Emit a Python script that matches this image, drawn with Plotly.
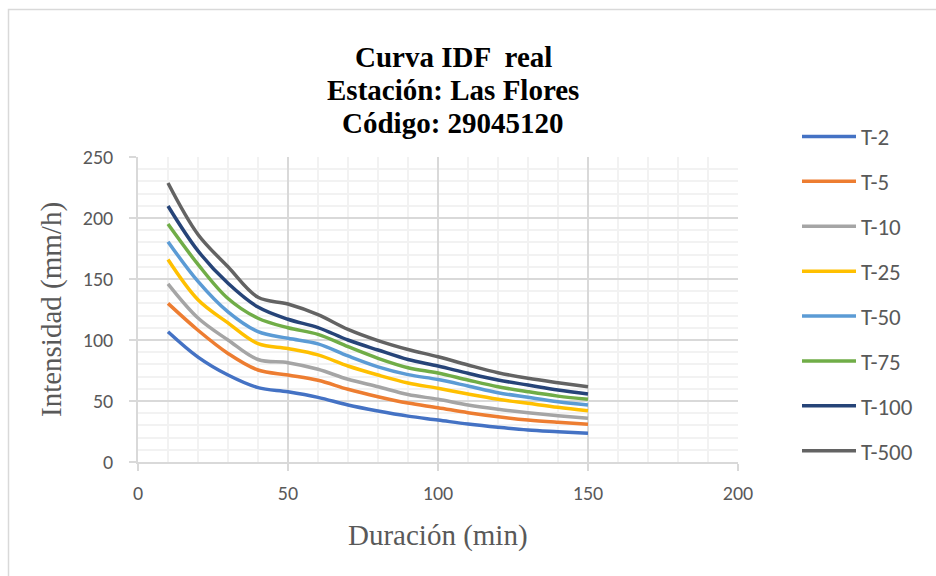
import plotly.graph_objects as go

durations = [10, 20, 30, 40, 50, 60, 70, 80, 90, 100, 110, 120, 130, 140, 150]

t2 = [106.8, 86.0, 71.3, 61.0, 57.6, 53.0, 46.7, 41.8, 37.6, 34.4, 31.1, 28.4, 26.2, 24.8, 23.5]
t5 = [130.0, 108.0, 89.0, 75.4, 71.3, 67.0, 59.6, 53.5, 48.3, 44.5, 40.4, 37.1, 34.4, 32.5, 30.9]
t10 = [146.0, 118.0, 100.0, 84.0, 81.4, 76.0, 67.8, 61.7, 55.3, 51.4, 46.7, 43.2, 40.4, 38.0, 35.8]
t25 = [166.0, 133.0, 114.0, 97.0, 93.0, 87.8, 78.7, 71.3, 64.8, 60.4, 55.7, 51.4, 48.1, 44.8, 42.0]
t50 = [180.6, 148.0, 123.0, 106.8, 101.4, 96.8, 86.9, 78.0, 71.6, 67.6, 62.3, 56.8, 53.0, 49.4, 46.7]
t75 = [195.0, 162.0, 134.0, 117.8, 110.0, 104.6, 94.5, 85.0, 77.3, 73.0, 67.2, 61.7, 57.6, 54.0, 51.4]
t100 = [209.8, 173.0, 146.5, 127.0, 117.0, 110.2, 100.0, 91.8, 84.0, 78.7, 72.7, 67.2, 63.1, 59.0, 55.7]
t500 = [228.7, 186.5, 160.0, 135.0, 129.5, 120.8, 108.7, 99.5, 92.2, 86.3, 79.5, 73.2, 68.6, 65.0, 61.7]

series_names = ["T-2", "T-5", "T-10", "T-25", "T-50", "T-75", "T-100", "T-500"]
series_values = [t2, t5, t10, t25, t50, t75, t100, t500]
colors = ["#4472C4", "#ED7D31", "#A5A5A5", "#FFC000", "#5B9BD5", "#70AD47", "#264478", "#636363"]

title_lines = ["Curva IDF  real", "Estación: Las Flores", "Código: 29045120"]
x_title = "Duración (min)"
y_title = "Intensidad (mm/h)"

sans = "Carlito, Calibri, Lato, sans-serif"
tick_font = dict(family=sans, size=20, color="#595959")
legend_font = dict(family=sans, size=23, color="#595959")
serif = "Liberation Serif, Times New Roman, serif"

fig = go.Figure()
for name, vals, col in zip(series_names, series_values, colors):
    fig.add_trace(go.Scatter(
        x=durations, y=vals, name=name, mode="lines",
        line=dict(color=col, width=3.5, shape="spline", smoothing=1.0),
        legendgroup=name,
    ))

L, R, T, B = 138, 198, 157, 114
W, H = 936, 576
pw, ph = W - L - R, H - T - B

def px_to_paper_x(px):
    return (px - L) / pw

def px_to_paper_y(py):
    return (H - B - py) / ph

annotations = []
for i, line in enumerate(title_lines):
    annotations.append(dict(
        text="<b>%s</b>" % line, xref="paper", yref="paper",
        x=px_to_paper_x(453), y=px_to_paper_y(57 + 33 * i),
        xanchor="center", yanchor="middle", showarrow=False,
        font=dict(family=serif, size=29, color="#000000"),
    ))
annotations.append(dict(
    text=x_title, xref="paper", yref="paper",
    x=px_to_paper_x(438), y=px_to_paper_y(535),
    xanchor="center", yanchor="middle", showarrow=False,
    font=dict(family=serif, size=29, color="#595959"),
))
annotations.append(dict(
    text=y_title, xref="paper", yref="paper", textangle=-90,
    x=px_to_paper_x(51), y=px_to_paper_y(310),
    xanchor="center", yanchor="middle", showarrow=False,
    font=dict(family=serif, size=29, color="#595959"),
))

fig.update_layout(
    width=W, height=H,
    margin=dict(l=L, r=R, t=T, b=B),
    paper_bgcolor="white", plot_bgcolor="white",
    showlegend=True,
    legend=dict(
        x=px_to_paper_x(797), y=px_to_paper_y(115), xanchor="left", yanchor="top",
        font=legend_font, tracegroupgap=12, itemwidth=54, maxheight=1.0,
        bgcolor="rgba(0,0,0,0)",
    ),
    annotations=annotations,
    shapes=[dict(
        type="rect", xref="paper", yref="paper",
        x0=px_to_paper_x(8.5), x1=1.6, y0=-0.6, y1=px_to_paper_y(9.5),
        line=dict(color="#D9D9D9", width=1.5), fillcolor="rgba(0,0,0,0)", layer="below",
    )],
)

fig.update_xaxes(
    range=[0, 200], dtick=50, tick0=0,
    showgrid=True, gridcolor="#D9D9D9", gridwidth=1.5,
    minor=dict(dtick=10, showgrid=True, gridcolor="#F2F2F2", gridwidth=1.5),
    showline=True, linecolor="#D9D9D9", linewidth=1.5,
    ticks="outside", ticklen=7, tickcolor="#D9D9D9", tickwidth=1.5,
    zeroline=False, tickfont=tick_font, ticklabelstandoff=5,
)
fig.update_yaxes(
    range=[0, 250], dtick=50, tick0=0,
    showgrid=True, gridcolor="#D9D9D9", gridwidth=1.5,
    minor=dict(dtick=10, showgrid=True, gridcolor="#F2F2F2", gridwidth=1.5),
    showline=True, linecolor="#D9D9D9", linewidth=1.5,
    ticks="outside", ticklen=7, tickcolor="#D9D9D9", tickwidth=1.5,
    zeroline=False, tickfont=tick_font, ticklabelstandoff=12,
)

fig.write_html("out.html")
